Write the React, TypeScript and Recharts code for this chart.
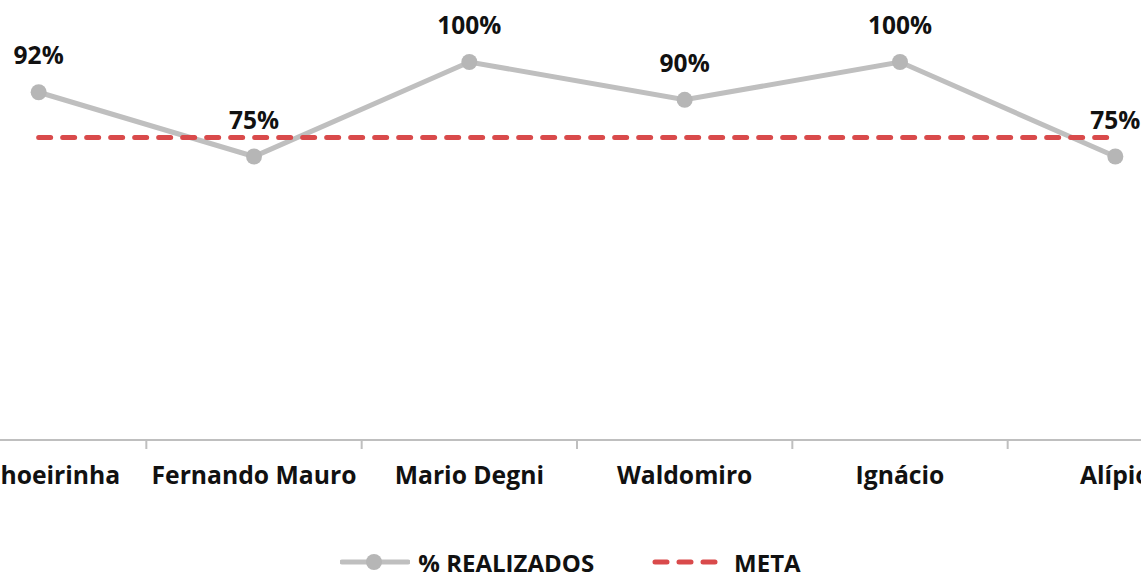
import { LineChart, Line, XAxis, YAxis, Legend, LabelList } from "recharts";

const categories = ["Cachoeirinha", "Fernando Mauro", "Mario Degni", "Waldomiro", "Ignácio", "Alípio"];
const realizados = [92, 75, 100, 90, 100, 75];
const meta = [80, 80, 80, 80, 80, 80];

const data = categories.map((name, i) => ({
  name,
  realizados: realizados[i],
  meta: meta[i],
}));

const FONT = "'Open Sans', Lato, sans-serif";
const GRAY = "#bfbfbf";
const DOT = "#b6b6b6";
const RED = "#d94a4b";

function CategoryTick(props: any) {
  const { x, y, payload } = props;
  const half = payload && payload.offset != null ? payload.offset : 107.7;
  return (
    <g>
      <line x1={x - half} x2={x - half} y1={y} y2={y + 9} stroke={GRAY} strokeWidth={2} />
      <text
        x={x}
        y={y + 37}
        textAnchor="middle"
        dominantBaseline="middle"
        fontFamily={FONT}
        fontWeight={700}
        fontSize={24.7}
        fill="#111"
      >
        {payload.value}
      </text>
    </g>
  );
}

function LegendContent() {
  const textStyle = { fontFamily: FONT, fontWeight: 700, fontSize: 24, color: "#111", whiteSpace: "nowrap" as const };
  return (
    <div style={{ display: "flex", justifyContent: "center", alignItems: "center", height: 32 }}>
      <svg width={70} height={20} style={{ marginRight: 8 }}>
        <line x1={2} x2={68} y1={10} y2={10} stroke={GRAY} strokeWidth={5} strokeLinecap="round" />
        <circle cx={34} cy={10} r={8} fill={DOT} />
      </svg>
      <span style={textStyle}>% REALIZADOS</span>
      <svg width={70} height={20} style={{ marginLeft: 58, marginRight: 12 }}>
        <line x1={3} x2={67} y1={10} y2={10} stroke={RED} strokeWidth={5} strokeLinecap="round" strokeDasharray="12 12" />
      </svg>
      <span style={textStyle}>META</span>
    </div>
  );
}

export default function App() {
  return (
    <div
      style={{
        position: "absolute",
        top: 0,
        left: 0,
        width: 1141,
        height: 573,
        overflow: "hidden",
        background: "#fff",
      }}
    >
      <div style={{ position: "absolute", top: 0, left: -69 }}>
        <LineChart width={1292} height={573} data={data} margin={{ top: 62, right: 0, bottom: 103, left: 0 }}>
          <XAxis
            dataKey="name"
            scale="band"
            height={30}
            tickSize={0}
            tickMargin={0}
            interval={0}
            axisLine={{ stroke: GRAY, strokeWidth: 2 }}
            tickLine={false}
            tick={<CategoryTick />}
          />
          <YAxis hide domain={[0, 100]} />
          <Legend
            verticalAlign="middle"
            align="center"
            layout="horizontal"
            wrapperStyle={{ top: 546, left: 69, width: 1141, height: 32 }}
            content={<LegendContent />}
          />
          <Line
            dataKey="realizados"
            name="% REALIZADOS"
            type="linear"
            stroke={GRAY}
            strokeWidth={5}
            dot={{ r: 8, fill: DOT, stroke: DOT, strokeWidth: 0 }}
            activeDot={false}
            isAnimationActive={false}
          >
            <LabelList
              dataKey="realizados"
              position="top"
              offset={28}
              formatter={(v: any) => `${v}%`}
              style={{ fontFamily: FONT, fontWeight: 700, fontSize: 24.5, fill: "#111" }}
            />
          </Line>
          <Line
            dataKey="meta"
            name="META"
            type="linear"
            stroke={RED}
            strokeWidth={5}
            strokeDasharray="12 12"
            strokeLinecap="round"
            dot={false}
            activeDot={false}
            isAnimationActive={false}
          />
        </LineChart>
      </div>
    </div>
  );
}
